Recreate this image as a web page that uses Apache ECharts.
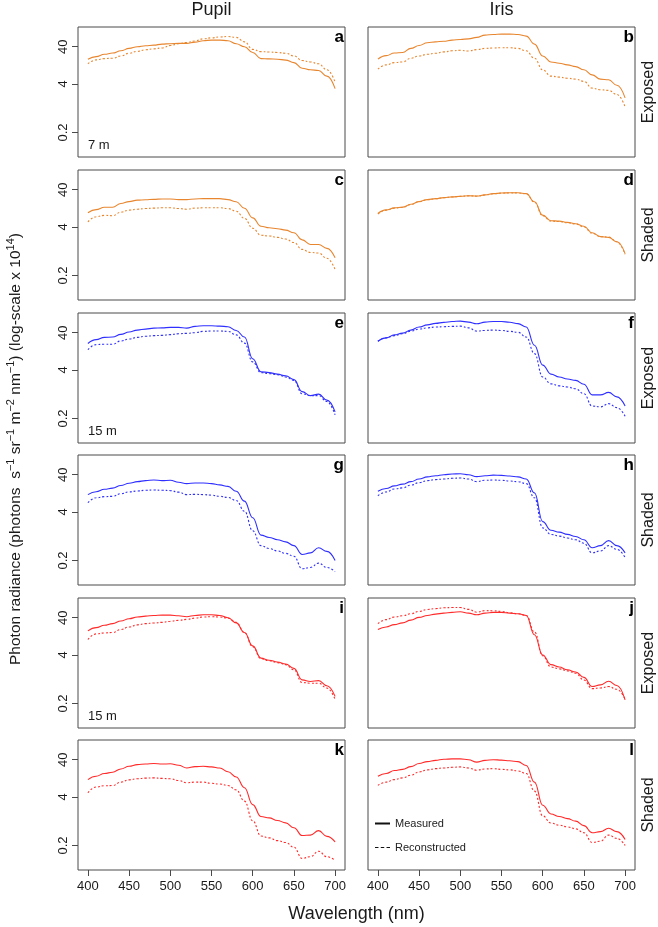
<!DOCTYPE html>
<html><head><meta charset="utf-8">
<script src="https://cdn.jsdelivr.net/npm/echarts@6/dist/echarts.min.js"></script>
<style>html,body{margin:0;padding:0;background:#fff}#c{width:658px;height:927px}</style>
</head><body><div id="c"></div>
<script>
// ---- DATA ----
const wavelength = [400,410,420,430,440,450,460,470,480,490,500,510,520,530,540,550,560,570,580,590,600,610,620,630,640,650,660,670,680,690,700];
const xTicks = [400,450,500,550,600,650,700];
const yTicks = [0.2,4,40];
const columnTitles = ['Pupil','Iris'];
const rowLabels = ['Exposed','Shaded','Exposed','Shaded','Exposed','Shaded'];
const depthLabels = ['7 m','','15 m','','15 m',''];
const panelLetters = ['a','b','c','d','e','f','g','h','i','j','k','l'];
const seriesNames = ['Measured','Reconstructed'];

const a_meas = [18.4,21.7,25,27,31,36,40,42.5,44,47,48,49,49,53,58,60,60,58,48,40,28,19.2,18.8,18.5,17.5,15,10.6,9.6,9.2,6.5,3];
const a_rec  = [13.9,17.7,19.2,19.6,22.6,26.6,30,33,35,37,43,48,52,57,65,69,73,75,71,54,34,29.5,28.8,28,26.6,22.6,17,15.6,13.9,9.6,4.5];
const b_meas = [18.5,23,27,28,36,43,51,54,56,60,62.5,65,71,81.7,85,87,87,85,77,47,22.6,15.6,14.4,13,11.7,9.6,7,5.4,5.2,3.7,1.7];
const b_rec  = [10,13,15,15.6,19.6,22.6,25,26.6,29,31,32,30.6,33.3,36,37,37.5,37.5,36,31,19.6,9.6,6.5,6.1,5.7,5.4,4.7,3.1,2.8,2.7,2.1,0.98];
const c_meas = [9.6,11.7,13.5,13.5,17,19.2,21,21.5,22,22.6,22.6,21.7,21.7,22.6,23,23,23,21.7,19,12.7,7,4.2,3.8,3.6,3.3,2.8,1.8,1.36,1.36,1.07,0.6];
const c_rec  = [5.5,7.5,8.2,8,10,11.3,12,12.5,12.8,13.1,13.1,12.5,12,12.8,13.1,13.1,13.1,12.5,10.6,6.8,3.7,2.4,2.3,2.1,1.9,1.53,1.0,0.83,0.8,0.58,0.29];
const d_meas = [9.2,11.5,13,13.6,16.3,19.2,21.7,23,24.5,25.6,26.6,27.6,27,29,31.3,32.6,33,33,31.3,19,8.3,5.9,5.75,5.3,4.9,4.2,2.8,2.2,2.1,1.6,0.77];
const d_rec  = [8.9,11.2,12.8,13.4,16,19,21.5,22.8,24.3,25.4,26.4,27.3,26.8,28.8,31,32.3,32.8,32.8,31,18.6,8,5.7,5.6,5.2,4.8,4.0,2.7,2.2,2.15,1.6,0.74];
const e_meas = [20.5,26,30,30.6,36,41.7,47,50,53,54,55.6,55.6,53,59,61.5,61.5,60,58,46,30.6,8,3.6,3.4,3.1,2.8,2.2,1.05,0.82,0.9,0.62,0.3];
const e_rec  = [14,19.2,19.6,19.6,24,27,30,32,33.3,34,35.5,37.5,38.4,40,43.4,44.3,44.3,43.4,35,21,6.6,3.4,3.2,3,2.6,2.1,0.92,0.82,0.82,0.57,0.25];
const f_meas = [23.6,29,35,39,47,56.6,65,71,75.5,80,81.7,77,69.5,77,80,80,76,70,57,18.5,5.4,3.1,2.6,2.3,2.1,1.65,0.86,0.86,1.0,0.76,0.43];
const f_rec  = [23.6,29,33.3,37.5,44,50,54,56.6,58,59,60,54,44,46,47,46,43.4,41,30.6,11,2.6,1.7,1.5,1.4,1.25,0.92,0.43,0.41,0.5,0.39,0.23];
const g_meas = [11.7,14,16.3,17.4,20.5,23.6,26,27.7,28.8,27.7,28.3,25,23,24,24,23,21.3,19.4,14.4,7.8,2.8,0.96,0.83,0.72,0.63,0.5,0.29,0.32,0.44,0.35,0.2];
const g_rec  = [7.1,9.6,10.3,10.5,12.4,13.8,14.6,15.3,15.6,15.3,15,13.6,11.7,11.9,11.7,11.3,10.5,9.8,8.1,4.2,1.25,0.5,0.42,0.36,0.31,0.26,0.12,0.13,0.17,0.13,0.1];
const h_meas = [14.4,17,20,22.3,26,30.6,35,37.5,40,41.7,42.5,40,35.5,37.5,39,38.4,36.8,35,30.6,13,2.2,1.3,1.15,1.0,0.88,0.72,0.44,0.5,0.68,0.5,0.32];
const h_rec  = [10.9,13.8,16.6,17.7,21,24.5,27.7,29.5,30.6,32,32.6,30.6,26,28.3,28.8,28.3,27,26,23,9.6,1.5,1.0,0.9,0.8,0.72,0.58,0.32,0.36,0.5,0.4,0.24];
const i_meas = [17.7,21.7,25,27.7,32.6,37.5,41.7,44,46,47,47,45,42.5,46,48,48,46,40,29,16,7,3.3,2.9,2.6,2.3,1.75,0.86,0.78,0.82,0.6,0.31];
const i_rec  = [10.4,14.7,15.6,16,19.2,22.6,25.6,27.7,28.8,30,32,34,36,39,41.7,42.5,41.7,39,30,16,6.7,3.2,2.8,2.5,2.2,1.6,0.73,0.7,0.7,0.52,0.26];
const j_meas = [19.2,22.6,26,29,34.5,40.8,46,50,53,55.6,58,53,48,53,55.6,55.6,53,51,46,14,4,2.2,1.9,1.6,1.4,1.0,0.57,0.63,0.79,0.61,0.25];
const j_rec  = [27.7,35.5,41.7,45,51,59,66.6,70,73.7,75,75,67,56,62,61,59,54,51,46,16.6,3.8,1.9,1.7,1.5,1.3,0.85,0.5,0.52,0.57,0.48,0.26];
const k_meas = [11.7,14.4,17,18.5,22.6,26.6,29.5,30.6,31.6,30.6,31,28.3,24,26,26.6,25.6,24,19,13.8,7.1,2.5,1.2,1.1,0.94,0.81,0.6,0.37,0.38,0.5,0.35,0.25];
const k_rec  = [5.2,7.4,8,8.1,10,11.5,12.3,12.8,13,12.6,12.3,11.1,9.6,10,10,9.3,8.9,8.1,6.2,3.1,0.92,0.36,0.32,0.27,0.24,0.18,0.09,0.1,0.14,0.1,0.08];
const l_meas = [14.4,17,20.5,22,26,31.6,35.5,38.4,41,42,42,40,34.5,38.4,40,39,37.5,35.5,28,10,2.4,1.4,1.2,1.05,0.9,0.68,0.44,0.47,0.58,0.47,0.29];
const l_rec  = [8.2,10,11.7,13,15.3,18.8,21.3,23,24,25,25.6,24,20.9,22.6,23,22,21.3,20,17,5.75,1.25,0.8,0.7,0.63,0.56,0.44,0.24,0.26,0.38,0.31,0.2];

const measured = [a_meas,b_meas,c_meas,d_meas,e_meas,f_meas,g_meas,h_meas,i_meas,j_meas,k_meas,l_meas];
const reconstructed = [a_rec,b_rec,c_rec,d_rec,e_rec,f_rec,g_rec,h_rec,i_rec,j_rec,k_rec,l_rec];

// ---- STYLE / LAYOUT ----
const FONT = '"Liberation Sans", Arial, Helvetica, sans-serif';
const rowColors = ['#e8862f','#e8862f','#2f2fff','#2f2fff','#ff2a2a','#ff2a2a'];
const colLeft = [78, 368];
const rowTop = [27, 170, 313, 455, 598, 740];
const GW = 267, GH = 130;
const boxColor = '#4a4a4a';
const textColor = '#1a1a1a';

const grids = [], xAxes = [], yAxes = [], series = [], graphics = [];
for (let p = 0; p < 12; p++) {
  const row = Math.floor(p / 2), col = p % 2;
  const bottom = row === 5, left = col === 0;
  grids.push({left: colLeft[col], top: rowTop[row], width: GW, height: GH, show: true,
    borderColor: boxColor, borderWidth: 1, backgroundColor: 'transparent', containLabel: false});
  xAxes.push({type: 'value', gridIndex: p, min: 388, max: 712,
    axisLine: {show: false}, splitLine: {show: false},
    axisTick: {show: bottom, customValues: xTicks, length: 6, lineStyle: {color: boxColor}},
    axisLabel: {show: bottom, customValues: xTicks, margin: 10, fontSize: 13, color: textColor, fontFamily: FONT}});
  yAxes.push({type: 'log', gridIndex: p, min: 0.044, max: 135,
    axisLine: {show: false}, splitLine: {show: false},
    axisTick: {show: left, customValues: yTicks, length: 6, lineStyle: {color: boxColor}},
    axisLabel: {show: left, customValues: yTicks, rotate: 90, margin: 8, fontSize: 13, color: textColor, fontFamily: FONT,
      formatter: v => String(+(+v).toPrecision(3))}});
  const c = rowColors[row];
  series.push({type: 'line', name: seriesNames[0], xAxisIndex: p, yAxisIndex: p, symbol: 'none',
    smooth: 0.45, smoothMonotone: 'x', silent: true,
    lineStyle: {color: c, width: 1.1, type: 'solid'}, itemStyle: {color: c},
    data: wavelength.map((w, k) => [w, measured[p][k]])});
  series.push({type: 'line', name: seriesNames[1], xAxisIndex: p, yAxisIndex: p, symbol: 'none',
    smooth: 0.45, smoothMonotone: 'x', silent: true,
    lineStyle: {color: c, width: 1.1, type: [2, 2]}, itemStyle: {color: c},
    data: wavelength.map((w, k) => [w, reconstructed[p][k]])});
  graphics.push({type: 'text', x: colLeft[col] + GW - 1, y: rowTop[row] + 2,
    style: {text: panelLetters[p], align: 'right', verticalAlign: 'top', fontSize: 17, fontWeight: 'bold', fontFamily: FONT, fill: '#000'}});
  if (left && depthLabels[row]) {
    graphics.push({type: 'text', x: colLeft[0] + 10, y: rowTop[row] + GH - 12,
      style: {text: depthLabels[row], align: 'left', verticalAlign: 'middle', fontSize: 13, fontFamily: FONT, fill: textColor}});
  }
}
for (let col = 0; col < 2; col++) {
  graphics.push({type: 'text', x: colLeft[col] + GW / 2, y: 10,
    style: {text: columnTitles[col], align: 'center', verticalAlign: 'middle', fontSize: 18, fontFamily: FONT, fill: textColor}});
}
for (let row = 0; row < 6; row++) {
  graphics.push({type: 'text', x: 649, y: rowTop[row] + GH / 2, rotation: Math.PI / 2,
    style: {text: rowLabels[row], x: 0, y: 0, align: 'center', verticalAlign: 'middle', fontSize: 16, fontFamily: FONT, fill: textColor}});
}
graphics.push({type: 'text', x: (colLeft[0] + colLeft[1] + GW) / 2, y: 914,
  style: {text: 'Wavelength (nm)', align: 'center', verticalAlign: 'middle', fontSize: 18, fontFamily: FONT, fill: textColor}});
graphics.push({type: 'text', x: 16, y: 449, rotation: Math.PI / 2,
  style: {x: 0, y: 0, align: 'center', verticalAlign: 'middle', fill: textColor, fontFamily: FONT,
    text: '{n|Photon radiance (photons  s}{s|−1}{n| sr}{s|−1}{n| m}{s|−2}{n| nm}{s|−1}{n|) (log-scale x 10}{s|14}{n|)}',
    rich: {n: {fontSize: 15.5, lineHeight: 21, fontFamily: FONT, fill: textColor},
           s: {fontSize: 11, lineHeight: 11, verticalAlign: 'top', fontFamily: FONT, fill: textColor}}}});

const option = {
  animation: false,
  backgroundColor: '#fff',
  grid: grids, xAxis: xAxes, yAxis: yAxes, series: series,
  legend: {
    orient: 'vertical', left: 370, top: 813, itemWidth: 15, itemHeight: 2, itemGap: 13,
    selectedMode: false,
    textStyle: {fontSize: 11, color: '#222', fontFamily: FONT},
    data: [
      {name: 'Measured', icon: 'rect', itemStyle: {color: '#111'}},
      {name: 'Reconstructed', icon: 'path://M0 0H3V1H0Z M5 0H8V1H5Z M10 0H13V1H10Z', itemStyle: {color: '#111'}}
    ]
  },
  graphic: graphics
};
const chart = echarts.init(document.getElementById('c'), null, {renderer: 'canvas'});
chart.setOption(option);
</script>
</body></html>
